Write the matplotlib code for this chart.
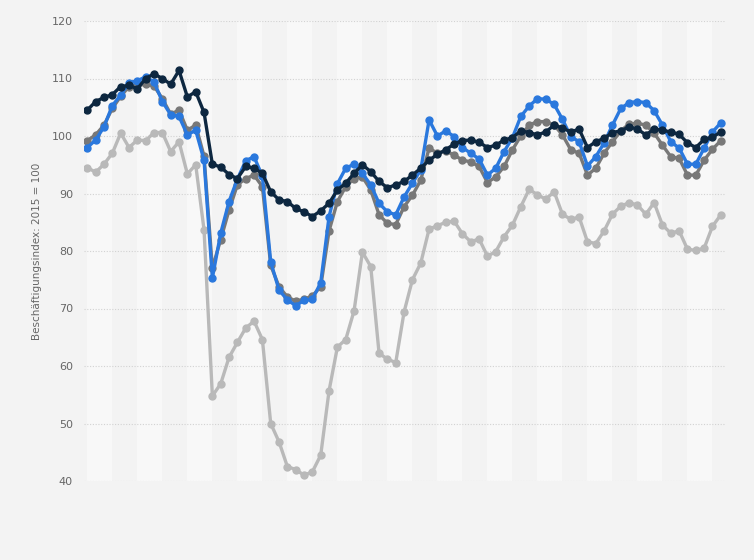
import numpy as np
import matplotlib
matplotlib.use('Agg')
import matplotlib.pyplot as plt

# monthly index values (Jan 2019 .. May 2025)
navy = [104.5, 106.0, 106.7, 107.2, 108.6, 108.8, 108.2, 110.0, 110.8, 110.0,
        109.0, 111.4, 106.8, 107.7, 104.1, 95.1, 94.6, 93.3, 92.6, 94.7,
        94.4, 93.5, 90.3, 88.9, 88.6, 87.4, 86.8, 86.0, 87.0, 88.3,
        90.6, 91.8, 93.5, 95.0, 93.8, 92.1, 91.0, 91.5, 92.1, 93.2,
        94.4, 95.8, 96.8, 97.6, 98.6, 99.2, 99.3, 98.9, 98.0, 98.4,
        99.3, 99.7, 100.9, 100.6, 100.2, 100.7, 101.9, 101.4, 100.7, 101.2,
        98.0, 99.0, 99.6, 100.6, 100.9, 101.6, 101.2, 100.2, 101.2, 101.0,
        100.7, 100.3, 98.8, 98.0, 99.4, 99.8, 100.7]

blue = [98.0, 99.3, 101.6, 105.3, 107.1, 109.3, 109.6, 110.3, 109.4, 106.0,
        103.7, 103.4, 100.2, 101.0, 95.8, 75.3, 83.1, 88.6, 92.5, 95.7,
        96.4, 93.0, 78.1, 73.2, 71.5, 70.5, 71.4, 71.6, 74.5, 86.0,
        91.7, 94.4, 95.1, 93.5, 91.5, 88.3, 86.8, 86.3, 89.4, 91.8,
        94.1, 102.8, 100.0, 100.9, 99.9, 98.0, 97.0, 96.0, 93.2, 94.4,
        97.3, 99.7, 103.4, 105.2, 106.5, 106.4, 105.5, 102.9, 99.9, 99.0,
        94.8, 96.4, 98.8, 101.9, 104.8, 105.8, 106.0, 105.8, 104.4, 101.9,
        99.0, 97.9, 95.1, 95.1, 97.9, 100.7, 102.3]

gray = [99.2, 100.2, 101.9, 104.8, 106.9, 108.6, 108.8, 109.0, 108.7, 106.5,
        103.8, 104.5, 101.0, 101.9, 96.5, 77.0, 82.0, 87.1, 91.5, 92.6,
        93.2, 91.2, 77.5, 73.8, 72.0, 71.3, 71.6, 72.2, 73.8, 83.5,
        88.6, 91.2, 92.6, 92.9, 90.6, 86.3, 84.8, 84.6, 87.7, 89.7,
        92.3, 97.9, 97.0, 97.4, 96.7, 95.8, 95.5, 94.7, 91.9, 92.9,
        94.7, 97.6, 100.0, 101.9, 102.5, 102.5, 101.9, 100.2, 97.6, 97.0,
        93.2, 94.4, 97.0, 99.0, 100.9, 102.1, 102.2, 101.9, 100.5, 98.4,
        96.4, 96.1, 93.2, 93.2, 95.8, 97.7, 99.2]

light = [94.5, 93.7, 95.1, 97.0, 100.5, 98.0, 99.3, 99.2, 100.6, 100.6,
         97.3, 99.0, 93.4, 95.0, 83.7, 54.8, 56.9, 61.5, 64.1, 66.6,
         67.8, 64.6, 50.0, 46.8, 42.5, 42.0, 41.0, 41.6, 44.5, 55.7,
         63.3, 64.6, 69.6, 79.8, 77.3, 62.2, 61.2, 60.6, 69.4, 75.0,
         77.9, 83.8, 84.4, 85.0, 85.2, 83.0, 81.6, 82.1, 79.1, 79.9,
         82.5, 84.5, 87.7, 90.7, 89.8, 89.0, 90.3, 86.4, 85.5, 85.9,
         81.6, 81.3, 83.5, 86.4, 87.8, 88.4, 88.0, 86.4, 88.4, 84.5,
         83.1, 83.5, 80.3, 80.1, 80.5, 84.3, 86.3]

y_ticks = [40, 50, 60, 70, 80, 90, 100, 110, 120]
y_label = 'Beschäftigungsindex: 2015 = 100'

bg = '#f3f3f3'
x = np.arange(len(navy))

fig = plt.figure(figsize=(7.54, 5.6), dpi=100, facecolor=bg)
ax = fig.add_axes([84 / 754, 79 / 560, 641 / 754, 460 / 560])
ax.set_facecolor(bg)

# alternating vertical bands, 3 months wide
for k in range(0, 26, 2):
    ax.axvspan(3 * k, 3 * k + 3, color='#f8f8f8', lw=0, zorder=0)

ax.set_xlim(-0.4, 76.5)
ax.set_ylim(40, 120)
ax.set_yticks(y_ticks)
ax.set_xticks([])
ax.grid(axis='y', color='#d2d2d2', linestyle=(0, (1, 1.5)), linewidth=0.8, zorder=1)
ax.tick_params(axis='y', length=0, pad=8, labelsize=8, labelcolor='#666666')
for s in ax.spines.values():
    s.set_visible(False)
ax.set_ylabel(y_label, fontsize=7.5, color='#666666')
ax.yaxis.set_label_coords(-0.066, 0.5)

kw = dict(lw=2.4, marker='o', markersize=5, solid_joinstyle='round', zorder=3)
ax.plot(x, light, color='#b9b9b9', **kw)
ax.plot(x, gray, color='#787878', **kw)
ax.plot(x, blue, color='#2a78dd', **kw)
ax.plot(x, navy, color='#0d2740', **kw)

fig.savefig('out.png', dpi=100, facecolor=bg)
